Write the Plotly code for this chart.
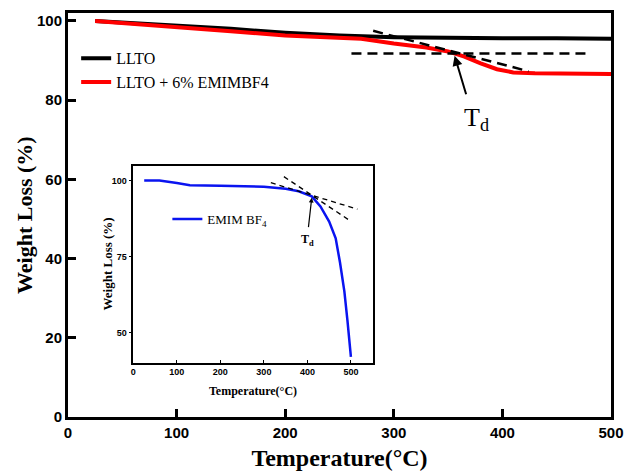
import plotly.graph_objects as go

# TGA curves of the composite electrolyte (main panel)
temp_llto = [25, 50, 100, 150, 200, 250, 300, 350, 400, 450, 500]
wt_llto = [100, 99.6, 99.0, 98.0, 97.0, 96.3, 95.9, 95.7, 95.6, 95.6, 95.5]

temp_mix = [25, 50, 100, 150, 200, 250, 270, 300, 330, 350, 365, 380, 395, 410, 430, 500]
wt_mix = [100, 99.5, 98.6, 97.4, 96.3, 95.9, 95.5, 94.3, 93.3, 92.3, 91.0, 89.3, 87.8, 87.0, 86.8, 86.6]

# Onset construction lines (main panel)
base_x = [261, 478]
base_y = [91.8, 91.8]
slope_x = [281, 424]
slope_y = [97.5, 87.3]
td_arrow_head = (356, 91.2)
td_arrow_tail = (367, 81.1)
td_label_pos = (376, 75.2)

# TGA curve of the ionic liquid (inset)
temp_il = [25, 60, 100, 130, 200, 250, 300, 350, 380, 410, 430, 450, 465, 475, 485, 492, 500]
wt_il = [100, 100, 99.2, 98.5, 98.3, 98.2, 98.0, 97.3, 96.5, 94.8, 91.5, 86.5, 81, 73, 63.5, 54, 42]

il_tan1_x = [316, 515]
il_tan1_y = [99.3, 90.6]
il_tan2_x = [346, 496]
il_tan2_y = [101.3, 87.0]
il_arrow_head = (410, 94.4)
il_arrow_tail = (402, 84.2)
il_label_pos = (401, 80.5)

SERIF = "Liberation Serif"
SANS = "Liberation Sans"

fig = go.Figure()

fig.add_trace(go.Scatter(x=temp_llto, y=wt_llto, mode="lines", name="LLTO",
                         line=dict(color="black", width=4), legend="legend"))
fig.add_trace(go.Scatter(x=temp_mix, y=wt_mix, mode="lines", name="LLTO + 6% EMIMBF4",
                         line=dict(color="#ff0000", width=4), legend="legend"))
fig.add_trace(go.Scatter(x=base_x, y=base_y, mode="lines", showlegend=False,
                         line=dict(color="black", width=2.5, dash="10px,6px")))
fig.add_trace(go.Scatter(x=slope_x, y=slope_y, mode="lines", showlegend=False,
                         line=dict(color="black", width=2.5, dash="10px,6px")))

fig.add_trace(go.Scatter(x=temp_il, y=wt_il, mode="lines", name="EMIM BF<sub>4</sub>",
                         line=dict(color="#0a14f0", width=2.5), xaxis="x2", yaxis="y2",
                         legend="legend2"))
fig.add_trace(go.Scatter(x=il_tan1_x, y=il_tan1_y, mode="lines", showlegend=False,
                         line=dict(color="black", width=1.3, dash="5px,4px"),
                         xaxis="x2", yaxis="y2"))
fig.add_trace(go.Scatter(x=il_tan2_x, y=il_tan2_y, mode="lines", showlegend=False,
                         line=dict(color="black", width=1.3, dash="5px,4px"),
                         xaxis="x2", yaxis="y2"))

fig.add_annotation(x=td_arrow_head[0], y=td_arrow_head[1], ax=td_arrow_tail[0], ay=td_arrow_tail[1],
                   xref="x", yref="y", axref="x", ayref="y", text="", showarrow=True,
                   arrowhead=2, arrowsize=1, arrowwidth=2, arrowcolor="black")
fig.add_annotation(x=td_label_pos[0], y=td_label_pos[1], xref="x", yref="y",
                   text="T<sub>d</sub>", showarrow=False,
                   font=dict(family=SERIF, size=26, color="black"))

fig.add_annotation(x=il_arrow_head[0], y=il_arrow_head[1], ax=il_arrow_tail[0], ay=il_arrow_tail[1],
                   xref="x2", yref="y2", axref="x2", ayref="y2", text="", showarrow=True,
                   arrowhead=2, arrowsize=0.8, arrowwidth=1.2, arrowcolor="black")
fig.add_annotation(x=il_label_pos[0], y=il_label_pos[1], xref="x2", yref="y2",
                   text="<b>T<sub>d</sub></b>", showarrow=False,
                   font=dict(family=SERIF, size=12, color="black"))

# Y-axis titles placed beside their axes
fig.add_annotation(x=-0.081, y=0.5, xref="paper", yref="paper", text="<b>Weight Loss (%)</b>",
                   textangle=-90, showarrow=False, xanchor="center", yanchor="middle",
                   font=dict(family=SERIF, size=22, color="black"))
fig.add_annotation(x=0.0727, y=0.3787, xref="paper", yref="paper", text="<b>Weight Loss (%)</b>",
                   textangle=-90, showarrow=False, xanchor="center", yanchor="middle",
                   font=dict(family=SERIF, size=13, color="black"))

fig.update_layout(
    width=625, height=471,
    margin=dict(l=68, r=14, t=13, b=54, autoexpand=False),
    paper_bgcolor="white", plot_bgcolor="white",
    xaxis=dict(range=[0, 500], tickvals=[0, 100, 200, 300, 400, 500], automargin=False,
               ticks="inside", ticklen=8, tickwidth=2.5, tickcolor="black",
               showline=True, linewidth=3, linecolor="black", mirror=True,
               showgrid=False, zeroline=False,
               tickfont=dict(family=SANS, size=15, color="black", weight="bold"),
               title=dict(text="Temperature(°C)", standoff=10,
                          font=dict(family=SERIF, size=24, color="black", weight="bold"))),
    yaxis=dict(range=[0, 102], tickvals=[0, 20, 40, 60, 80, 100], automargin=False,
               ticks="inside", ticklen=8, tickwidth=2.5, tickcolor="black",
               showline=True, linewidth=3, linecolor="black", mirror=True,
               showgrid=False, zeroline=False,
               tickfont=dict(family=SANS, size=15, color="black", weight="bold")),
    xaxis2=dict(domain=[0.1203, 0.5611], anchor="y2", range=[0, 550], automargin=False,
                tickvals=[0, 100, 200, 300, 400, 500],
                ticks="inside", ticklen=3, tickwidth=1.2, tickcolor="black",
                showline=True, linewidth=1.5, linecolor="black", mirror=True,
                showgrid=False, zeroline=False,
                tickfont=dict(family=SANS, size=9, color="black", weight="bold"),
                title=dict(text="Temperature(°C)", standoff=10,
                           font=dict(family=SERIF, size=12, color="black", weight="bold"))),
    yaxis2=dict(domain=[0.1344, 0.622], anchor="x2", range=[40.1, 104.9], automargin=False,
                tickvals=[50, 75, 100],
                ticks="outside", ticklen=3, tickwidth=1.2, tickcolor="black",
                showline=True, linewidth=1.5, linecolor="black", mirror=True,
                showgrid=False, zeroline=False,
                tickfont=dict(family=SANS, size=9, color="black", weight="bold")),
    legend=dict(x=0.015, y=0.93, xanchor="left", yanchor="top", bgcolor="rgba(0,0,0,0)",
                font=dict(family=SERIF, size=16, color="black"), tracegroupgap=0,
                itemwidth=30),
    legend2=dict(x=0.183, y=0.49, xanchor="left", yanchor="middle", bgcolor="rgba(0,0,0,0)",
                 font=dict(family=SERIF, size=13, color="black"), itemwidth=30),
    showlegend=True,
)

fig.write_html("out.html")
